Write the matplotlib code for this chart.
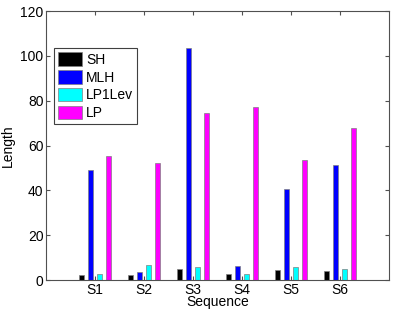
import matplotlib.pyplot as plt
import numpy as np

plt.rcParams['font.family'] = ['Liberation Sans', 'DejaVu Sans']

sequences = ['S1', 'S2', 'S3', 'S4', 'S5', 'S6']
sh = [2.1, 2.2, 5.1, 2.7, 4.4, 4.1]
mlh = [48.9, 3.4, 103.5, 6.4, 40.6, 51.1]
lp1lev = [2.7, 6.7, 5.8, 2.8, 5.7, 5.1]
lp = [55.3, 52.0, 74.5, 77.2, 53.7, 67.9]

series = [('SH', sh, '#000000'), ('MLH', mlh, '#0000ff'),
          ('LP1Lev', lp1lev, '#00ffff'), ('LP', lp, '#ff00ff')]

fig = plt.figure(figsize=(3.95, 3.15), dpi=100)
ax = fig.add_axes([0.117, 0.111, 0.868, 0.854])

x = np.arange(1, len(sequences) + 1)
step = 0.185
for i, (name, vals, col) in enumerate(series):
    ax.bar(x + (i - 1.5) * step, vals, width=0.1, color=col,
           edgecolor='#808080', linewidth=0.5, label=name)

ax.set_xlim(0, 7)
ax.set_ylim(0, 120)
ax.set_xticks(x)
ax.set_xticklabels(sequences)
ax.set_yticks(range(0, 121, 20))
ax.tick_params(direction='in', length=3, color='#505050', labelsize=10,
               top=True, right=True, pad=2)
for s in ax.spines.values():
    s.set_color('#505050')
    s.set_linewidth(0.8)
ax.set_xlabel('Sequence', fontsize=10, labelpad=-1)
ax.set_ylabel('Length', fontsize=10, labelpad=4)

leg = ax.legend(loc='upper left', bbox_to_anchor=(0.023, 0.862),
                borderaxespad=0, fontsize=10, fancybox=False,
                handlelength=1.7, handleheight=1.1, labelspacing=0.25,
                handletextpad=0.3, borderpad=0.3, framealpha=1)
leg.get_frame().set_edgecolor('#404040')
leg.get_frame().set_linewidth(0.8)

fig.savefig('out.png', dpi=100)
